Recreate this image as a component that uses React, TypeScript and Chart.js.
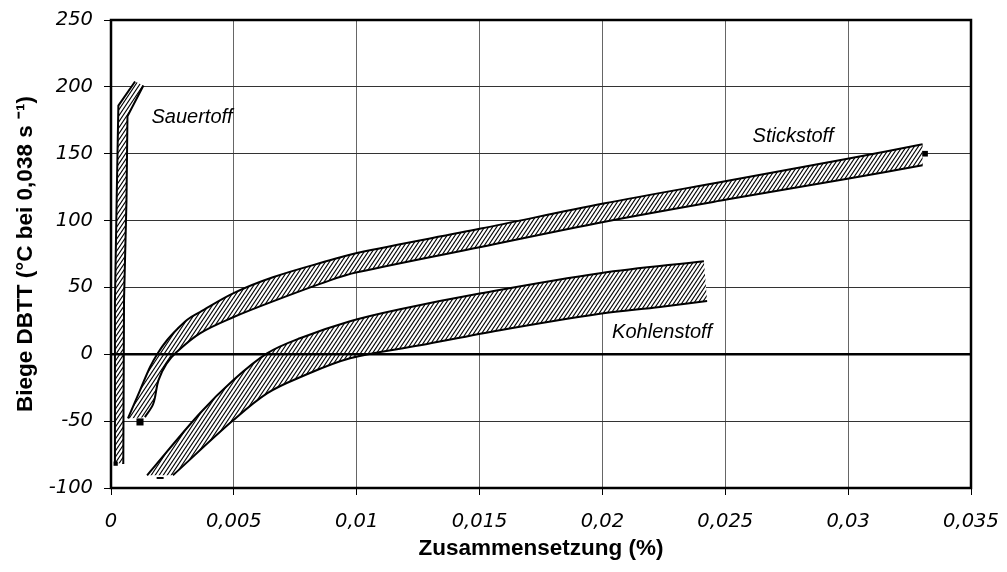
import React, { useEffect, useRef } from 'react';
import { Chart, registerables } from 'chart.js';

Chart.register(...registerables);

// ---- axis ticks ----
const xTickValues = [0, 0.005, 0.01, 0.015, 0.02, 0.025, 0.03, 0.035];
const xTickLabels = ['0', '0,005', '0,01', '0,015', '0,02', '0,025', '0,03', '0,035'];
const yTickValues = [-100, -50, 0, 50, 100, 150, 200, 250];
const yTickLabels = ['-100', '-50', '0', '50', '100', '150', '200', '250'];

// ---- Sauerstoff band (left / right boundary, bottom -> top) ----
const sauerLeftX = [0.00013, 0.00016, 0.00023, 0.0003, 0.00098];
const sauerLeftY = [-81, 40, 115, 186, 204];
const sauerRightX = [0.0005, 0.00053, 0.00063, 0.00067, 0.00132];
const sauerRightY = [-82, 40, 115, 178, 201];

// ---- Stickstoff band (upper / lower boundary) ----
const stickUpperX = [0.00069, 0.00118, 0.00159, 0.00191, 0.00228, 0.00269, 0.00313, 0.00362, 0.00497, 0.00659, 0.00891, 0.01001, 0.01505, 0.02004, 0.02505, 0.03003, 0.03303];
const stickUpperY = [-48, -27, -9.5, 1, 10.5, 18.7, 26.2, 31.6, 45.6, 57.6, 70.3, 75.8, 94, 112.7, 129.6, 146.4, 157];
const stickLowerX = [0.00138, 0.00172, 0.00193, 0.00226, 0.00267, 0.00362, 0.00497, 0.00659, 0.00891, 0.01001, 0.01505, 0.02004, 0.02505, 0.03003, 0.03303];
const stickLowerY = [-47, -37, -19.5, -7, 1.7, 15.7, 27.7, 39.6, 55.3, 61.3, 80.3, 99, 115.7, 131.4, 141.4];

// ---- Kohlenstoff band (upper / lower boundary) ----
const kohleUpperX = [0.00147, 0.00362, 0.00497, 0.00635, 0.00769, 0.00973, 0.01176, 0.01506, 0.0199, 0.02413];
const kohleUpperY = [-90.5, -44.1, -19.4, 0.7, 12, 24.7, 33.7, 45.6, 60.6, 69.6];
const kohleLowerX = [0.00252, 0.00497, 0.00635, 0.00769, 0.00973, 0.01258, 0.01583, 0.0199, 0.02234, 0.02426];
const kohleLowerY = [-90.5, -49.4, -29.2, -17.2, -3, 6.7, 18, 30.3, 35.4, 39.9];

// ---- small end markers ----
const markerX = [0.00118, 0.002, 0.03313, 0.00019];
const markerY = [-50.6, -92.5, 150, -81.8];

// ---- reference zero line ----
const zeroLineX = [0, 0.035];
const zeroLineY = [0, 0];

// ---- curve labels ----
const labelNames = ['Sauertoff', 'Stickstoff', 'Kohlenstoff'];
const labelX = [0.0033, 0.02776, 0.02243];
const labelY = [177, 163, 16];

const SAUER_TENSION = 0;
const BAND_TENSION = 0.35;

const pts = (xs: number[], ys: number[]) => xs.map((x, i) => ({ x, y: ys[i] }));
// closed outline: boundary A, then boundary B reversed; the corner points are
// doubled so the spline of the outline follows the boundary lines exactly
const polygon = (ax: number[], ay: number[], bx: number[], by: number[]) => {
  const a = pts(ax, ay);
  const b = pts(bx, by).reverse();
  return [...a, a[a.length - 1], b[0], ...b];
};

function makeHatch(): CanvasPattern | string {
  const c = document.createElement('canvas');
  c.width = 4;
  c.height = 6;
  const g = c.getContext('2d');
  if (!g) return '#ccc';
  g.fillStyle = '#fff';
  g.fillRect(0, 0, 4, 6);
  g.strokeStyle = '#000';
  g.lineWidth = 1.1;
  for (const dx of [-4, 0, 4]) {
    g.beginPath();
    g.moveTo(dx - 0.5, 6.75);
    g.lineTo(dx + 4.5, -0.75);
    g.stroke();
  }
  return g.createPattern(c, 'repeat') || '#ccc';
}

const frameAndLabels = {
  id: 'frameAndLabels',
  afterDatasetsDraw(chart: any) {
    const { ctx, scales } = chart;
    ctx.save();
    ctx.fillStyle = '#000';
    ctx.font = 'italic 20px "Liberation Sans", Arial, sans-serif';
    ctx.textAlign = 'center';
    ctx.textBaseline = 'middle';
    labelNames.forEach((t, i) => {
      ctx.fillText(t, scales.x.getPixelForValue(labelX[i]), scales.y.getPixelForValue(labelY[i]));
    });
    ctx.restore();
  },
  afterDraw(chart: any) {
    const { ctx, chartArea: a } = chart;
    ctx.save();
    ctx.strokeStyle = '#000';
    ctx.lineWidth = 2.5;
    ctx.strokeRect(a.left, a.top, a.right - a.left, a.bottom - a.top);
    ctx.restore();
  },
};

export default function App() {
  const ref = useRef<HTMLCanvasElement | null>(null);

  useEffect(() => {
    if (!ref.current) return;
    const hatch = makeHatch();
    const fillDs = (data: any[], tension: number) => ({
      data,
      fill: 'shape',
      backgroundColor: hatch,
      borderWidth: 0,
      borderColor: 'rgba(0,0,0,0)',
      pointRadius: 0,
      tension,
      order: 20,
    });
    const lineDs = (data: any[], tension: number) => ({
      data,
      fill: false,
      borderColor: '#000',
      borderWidth: 2,
      pointRadius: 0,
      tension,
      order: 10,
    });

    const chart = new Chart(ref.current, {
      type: 'line',
      data: {
        datasets: [
          fillDs(polygon(sauerLeftX, sauerLeftY, sauerRightX, sauerRightY), SAUER_TENSION),
          fillDs(polygon(stickUpperX, stickUpperY, stickLowerX, stickLowerY), BAND_TENSION),
          fillDs(polygon(kohleUpperX, kohleUpperY, kohleLowerX, kohleLowerY), BAND_TENSION),
          lineDs(pts(sauerLeftX, sauerLeftY), SAUER_TENSION),
          lineDs(pts(sauerRightX, sauerRightY), SAUER_TENSION),
          lineDs(pts(stickUpperX, stickUpperY), BAND_TENSION),
          lineDs(pts(stickLowerX, stickLowerY), BAND_TENSION),
          lineDs(pts(kohleUpperX, kohleUpperY), BAND_TENSION),
          lineDs(pts(kohleLowerX, kohleLowerY), BAND_TENSION),
          {
            data: pts(zeroLineX, zeroLineY),
            fill: false,
            borderColor: '#000',
            borderWidth: 2.5,
            pointRadius: 0,
            tension: 0,
            order: 2,
          },
          {
            data: pts(markerX, markerY),
            showLine: false,
            fill: false,
            pointStyle: ['rect', 'line', 'rect', 'rect'],
            pointRadius: [5, 3.5, 4, 3],
            pointBorderWidth: [0, 2, 0, 0],
            pointBackgroundColor: '#000',
            pointBorderColor: '#000',
            order: 1,
          } as any,
        ] as any,
      },
      options: {
        animation: false,
        responsive: false,
        devicePixelRatio: 1,
        events: [],
        layout: { padding: { left: 0, top: 20, right: 36, bottom: 0 } },
        plugins: {
          legend: { display: false },
          tooltip: { enabled: false },
        },
        scales: {
          x: {
            type: 'linear',
            min: 0,
            max: 0.035,
            afterFit: (s: any) => {
              s.height = 84;
              s.paddingLeft = 0;
              s.paddingRight = 0;
            },
            afterBuildTicks: (s: any) => { s.ticks = xTickValues.map((v) => ({ value: v })); },
            border: { display: false },
            grid: { color: '#666', lineWidth: 1, tickLength: 7, tickColor: '#000' },
            ticks: {
              callback: (_v: any, i: number) => xTickLabels[i],
              autoSkip: false,
              maxRotation: 0,
              padding: 15,
              color: '#000',
              font: { family: '"DejaVu Sans", sans-serif', size: 19.5, style: 'italic' },
            },
            title: {
              display: true,
              text: 'Zusammensetzung (%)',
              color: '#000',
              padding: { top: 0, bottom: 10 },
              font: { family: '"Liberation Sans", Arial, sans-serif', size: 22.5, weight: 'bold' },
            },
          },
          y: {
            type: 'linear',
            min: -100,
            max: 250,
            afterFit: (s: any) => {
              s.width = 111;
              s.paddingTop = 0;
              s.paddingBottom = 0;
            },
            afterBuildTicks: (s: any) => { s.ticks = yTickValues.map((v) => ({ value: v })); },
            border: { display: false },
            grid: { color: '#333', lineWidth: 1, tickLength: 7, tickColor: '#000' },
            ticks: {
              callback: (_v: any, i: number) => yTickLabels[i],
              autoSkip: false,
              padding: 11,
              color: '#000',
              font: { family: '"DejaVu Sans", sans-serif', size: 19.5, style: 'italic' },
            },
            title: {
              display: true,
              text: 'Biege DBTT (°C bei 0,038 s ⁻¹)',
              color: '#000',
              padding: { top: 12, bottom: 0 },
              font: { family: '"Liberation Sans", Arial, sans-serif', size: 22.5, weight: 'bold' },
            },
          },
        },
      },
      plugins: [frameAndLabels],
    } as any);

    return () => chart.destroy();
  }, []);

  return (
    <div style={{ position: 'fixed', left: 0, top: 0, width: 1007, height: 572, background: '#fff' }}>
      <canvas ref={ref} width={1007} height={572} style={{ width: 1007, height: 572, display: 'block' }} />
    </div>
  );
}
